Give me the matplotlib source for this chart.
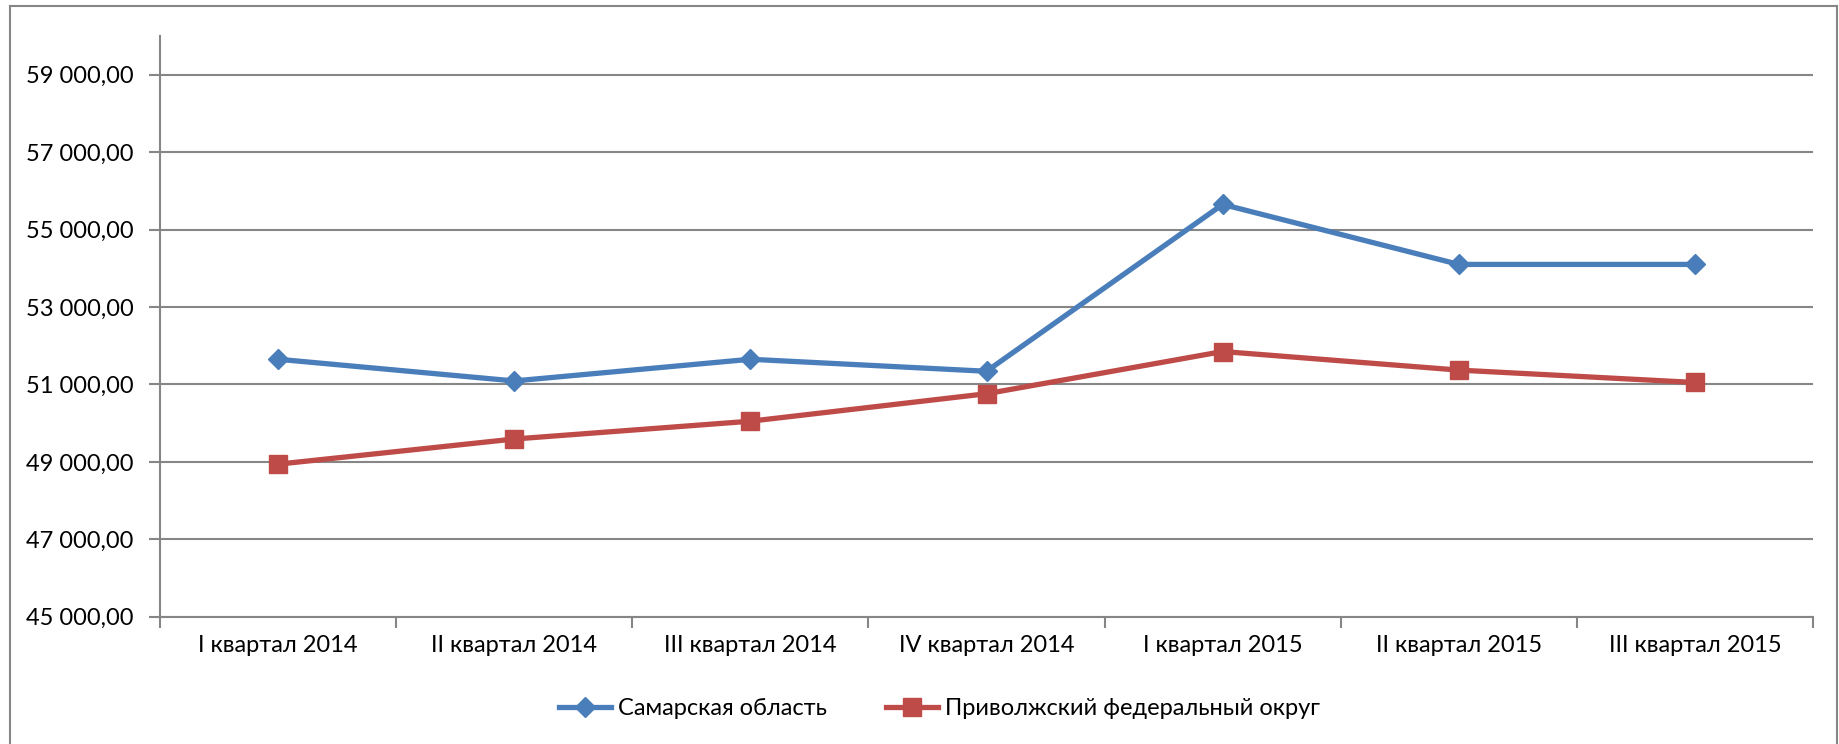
#!/usr/bin/env python3
"""Average wage by quarter: Samara region vs Volga federal district."""

import matplotlib

matplotlib.use("Agg")
import matplotlib.pyplot as plt
from matplotlib.lines import Line2D
from matplotlib.ticker import FuncFormatter, FixedLocator, MultipleLocator
import numpy as np

plt.rcParams["font.family"] = ["Lato", "DejaVu Sans"]

QUARTERS = [
    "I квартал 2014",
    "II квартал 2014",
    "III квартал 2014",
    "IV квартал 2014",
    "I квартал 2015",
    "II квартал 2015",
    "III квартал 2015",
]
SAMARA = [51650, 51090, 51650, 51340, 55650, 54100, 54100]
PFO = [48940, 49590, 50050, 50760, 51850, 51370, 51050]

LABEL_SAMARA = "Самарская область"
LABEL_PFO = "Приволжский федеральный округ"

BLUE = "#4A7EBB"
RED = "#BE4B48"
GREY = "#868686"


def fmt_rub(v, _pos):
    return f"{v:,.2f}".replace(",", " ").replace(".", ",")


def main():
    fig = plt.figure(figsize=(18.39, 7.44), dpi=100)
    ax = fig.add_axes([0.087, 0.1711, 0.8989, 0.7805])

    x = np.arange(len(QUARTERS))
    ax.plot(x, SAMARA, color=BLUE, lw=3.8, marker="D", ms=10.5,
            label=LABEL_SAMARA, zorder=4)
    ax.plot(x, PFO, color=RED, lw=3.8, marker="s", ms=13.5,
            label=LABEL_PFO, zorder=3)

    ax.set_xlim(-0.5, len(QUARTERS) - 0.5)
    ax.set_ylim(45000, 60000)
    ax.yaxis.set_major_locator(FixedLocator(np.arange(45000, 60001, 2000)))
    ax.yaxis.set_major_formatter(FuncFormatter(fmt_rub))
    ax.grid(axis="y", color=GREY, lw=1.5)
    ax.set_axisbelow(True)

    ax.set_xticks(x)
    ax.set_xticklabels(QUARTERS)
    ax.xaxis.set_minor_locator(MultipleLocator(1, offset=0.5))
    ax.tick_params(axis="x", which="major", length=0, pad=13, labelsize=17)
    ax.tick_params(axis="x", which="minor", length=8, width=1.5, color=GREY)
    ax.tick_params(axis="y", length=8, width=1.5, color=GREY, pad=11,
                   labelsize=17)

    for side in ("top", "right"):
        ax.spines[side].set_visible(False)
    for side in ("left", "bottom"):
        ax.spines[side].set_color(GREY)
        ax.spines[side].set_linewidth(1.5)

    ax.legend(loc="center", bbox_to_anchor=(0.511, 0.048),
              bbox_transform=fig.transFigure, ncol=2, frameon=False,
              fontsize=17, handlelength=2.2, handletextpad=0.3,
              columnspacing=2.5)

    # outer chart-area border (bottom edge falls outside the picture)
    x0, x1, y0 = 10 / 1839, 1837 / 1839, 1 - 6 / 744
    for xs, ys in [((x0, x0), (0, y0)), ((x0, x1), (y0, y0)), ((x1, x1), (y0, 0))]:
        fig.add_artist(Line2D(xs, ys, color=GREY, lw=1.5,
                              transform=fig.transFigure))

    fig.savefig("out.png", dpi=100)
    plt.close(fig)


if __name__ == "__main__":
    main()
